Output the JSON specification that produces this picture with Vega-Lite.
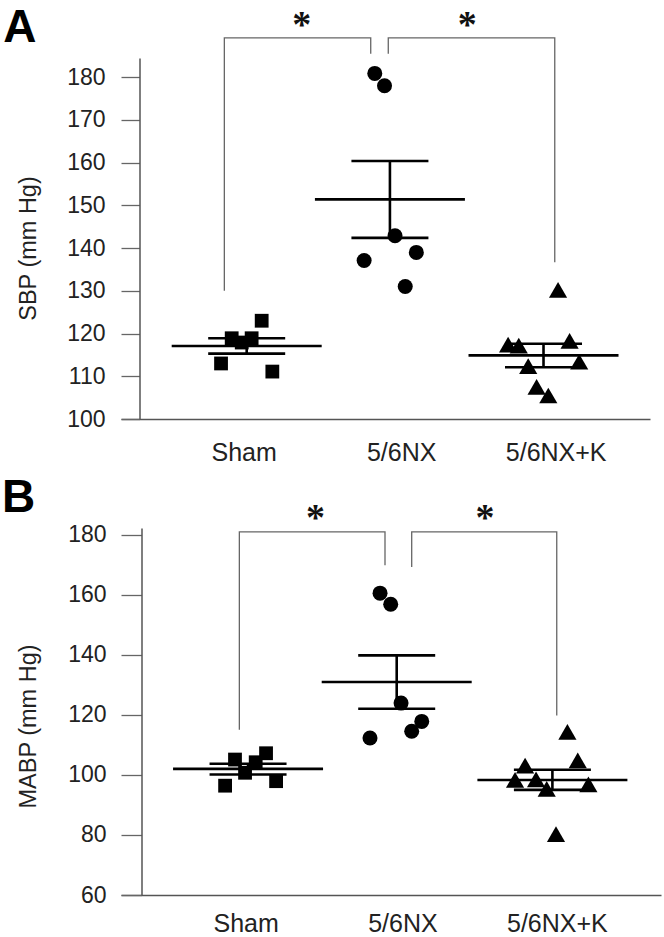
{
  "$schema": "https://vega.github.io/schema/vega-lite/v6.json",
  "padding": {"left": 2, "top": 5, "right": 5, "bottom": 2},
  "config": {
    "font": "Liberation Sans",
    "view": {"stroke": null},
    "axis": {"grid": false, "labelColor": "#222", "titleColor": "#222", "domainColor": "#555", "domainWidth": 1.5, "tickColor": "#666", "tickWidth": 1.3, "titleFontWeight": "normal"}
  },
  "datasets": {
    "sbpPoints": [
      {"group": "Sham", "x": 1.10, "value": 123.0},
      {"group": "Sham", "x": 0.90, "value": 118.9},
      {"group": "Sham", "x": 1.033, "value": 118.9},
      {"group": "Sham", "x": 0.967, "value": 117.9},
      {"group": "Sham", "x": 0.829, "value": 113.0},
      {"group": "Sham", "x": 1.171, "value": 111.1},
      {"group": "5/6NX", "x": 1.854, "value": 180.9},
      {"group": "5/6NX", "x": 1.919, "value": 178.0},
      {"group": "5/6NX", "x": 1.989, "value": 142.9},
      {"group": "5/6NX", "x": 1.783, "value": 137.1},
      {"group": "5/6NX", "x": 2.131, "value": 139.0},
      {"group": "5/6NX", "x": 2.057, "value": 131.0},
      {"group": "5/6NX+K", "x": 2.743, "value": 117.4},
      {"group": "5/6NX+K", "x": 2.814, "value": 117.2},
      {"group": "5/6NX+K", "x": 3.153, "value": 118.3},
      {"group": "5/6NX+K", "x": 2.877, "value": 112.4},
      {"group": "5/6NX+K", "x": 3.217, "value": 113.4},
      {"group": "5/6NX+K", "x": 2.933, "value": 107.5},
      {"group": "5/6NX+K", "x": 3.011, "value": 105.5},
      {"group": "5/6NX+K", "x": 3.076, "value": 130.2}
    ],
    "sbpSummary": [
      {"group": "Sham", "x": 1.0, "mean": 117.1, "lo": 115.3, "hi": 118.9},
      {"group": "5/6NX", "x": 1.955, "mean": 151.4, "lo": 142.4, "hi": 160.4},
      {"group": "5/6NX+K", "x": 2.979, "mean": 114.9, "lo": 112.1, "hi": 117.6}
    ],
    "sbpBrackets": [
      {"bracket": 1, "o": 1, "x": 0.851, "y": 130.0},
      {"bracket": 1, "o": 2, "x": 0.851, "y": 189.2},
      {"bracket": 1, "o": 3, "x": 1.827, "y": 189.2},
      {"bracket": 1, "o": 4, "x": 1.827, "y": 185.5},
      {"bracket": 2, "o": 1, "x": 1.944, "y": 185.5},
      {"bracket": 2, "o": 2, "x": 1.944, "y": 189.2},
      {"bracket": 2, "o": 3, "x": 3.054, "y": 189.2},
      {"bracket": 2, "o": 4, "x": 3.054, "y": 136.7}
    ],
    "sbpText": [
      {"label": "*", "kind": "star", "x": 1.367, "y": 189.5},
      {"label": "*", "kind": "star", "x": 2.471, "y": 189.5}
    ],
    "sbpPanel": [{"label": "A", "x": -0.623, "y": 188.2}],
    "mabpPoints": [
      {"group": "Sham", "x": 0.913, "value": 105.1},
      {"group": "Sham", "x": 1.12, "value": 107.2},
      {"group": "Sham", "x": 1.051, "value": 104.2},
      {"group": "Sham", "x": 0.98, "value": 100.7},
      {"group": "Sham", "x": 0.847, "value": 96.4},
      {"group": "Sham", "x": 1.187, "value": 97.9},
      {"group": "5/6NX", "x": 1.88, "value": 160.5},
      {"group": "5/6NX", "x": 1.951, "value": 156.8},
      {"group": "5/6NX", "x": 2.02, "value": 123.9},
      {"group": "5/6NX", "x": 1.813, "value": 112.3},
      {"group": "5/6NX", "x": 2.091, "value": 114.5},
      {"group": "5/6NX", "x": 2.158, "value": 117.8},
      {"group": "5/6NX+K", "x": 3.129, "value": 114.3},
      {"group": "5/6NX+K", "x": 3.198, "value": 104.8},
      {"group": "5/6NX+K", "x": 2.847, "value": 103.1},
      {"group": "5/6NX+K", "x": 2.78, "value": 98.3},
      {"group": "5/6NX+K", "x": 2.92, "value": 98.5},
      {"group": "5/6NX+K", "x": 2.991, "value": 95.3},
      {"group": "5/6NX+K", "x": 3.269, "value": 96.8},
      {"group": "5/6NX+K", "x": 3.053, "value": 80.3}
    ],
    "mabpSummary": [
      {"group": "Sham", "x": 1.0, "mean": 102.0, "lo": 100.1, "hi": 103.7},
      {"group": "5/6NX", "x": 1.991, "mean": 130.9, "lo": 122.0, "hi": 139.8},
      {"group": "5/6NX+K", "x": 3.029, "mean": 98.3, "lo": 95.0, "hi": 101.7}
    ],
    "mabpBrackets": [
      {"bracket": 1, "o": 1, "x": 0.942, "y": 115.0},
      {"bracket": 1, "o": 2, "x": 0.942, "y": 180.9},
      {"bracket": 1, "o": 3, "x": 1.913, "y": 180.9},
      {"bracket": 1, "o": 4, "x": 1.913, "y": 169.8},
      {"bracket": 2, "o": 1, "x": 2.091, "y": 169.2},
      {"bracket": 2, "o": 2, "x": 2.091, "y": 180.9},
      {"bracket": 2, "o": 3, "x": 3.058, "y": 180.9},
      {"bracket": 2, "o": 4, "x": 3.058, "y": 119.8}
    ],
    "mabpText": [
      {"label": "*", "kind": "star", "x": 1.45, "y": 181.5},
      {"label": "*", "kind": "star", "x": 2.579, "y": 181.5}
    ],
    "mabpPanel": [{"label": "B", "x": -0.64, "y": 187.5}]
  },
  "bounds": "flush",
  "spacing": 109,
  "resolve": {"scale": {"x": "independent", "y": "independent"}},
  "vconcat": [
    {
      "width": 529,
      "height": 361,
      "layer": [
        {
          "data": {"name": "sbpBrackets"},
          "mark": {"type": "line", "stroke": "#666", "strokeWidth": 1.3, "interpolate": "linear"},
          "encoding": {
            "x": {"field": "x", "type": "quantitative", "scale": {"domain": [0.162, 3.689], "nice": false, "zero": false},
              "axis": {"values": [0.98, 2.03, 3.06], "labelExpr": "datum.value < 1.5 ? 'Sham' : datum.value < 2.5 ? '5/6NX' : '5/6NX+K'", "ticks": false, "title": null, "labelFontSize": 25, "labelPadding": 21, "labelFlush": false, "labelOverlap": false}},
            "y": {"field": "y", "type": "quantitative", "scale": {"domain": [100, 184.5], "nice": false, "zero": false},
              "axis": {"values": [100,105,110,115,120,125,130,135,140,145,150,155,160,165,170,175,180], "labelExpr": "datum.value % 10 === 0 ? datum.label : ''", "offset": -18.5, "tickSize": 18.5, "labelPadding": 16, "labelFontSize": 23, "title": "SBP (mm Hg)", "titleFontSize": 23.5, "titleX": -111, "titleY": 190, "titleBaseline": "middle", "labelFlush": false, "labelOverlap": false}},
            "detail": {"field": "bracket"},
            "order": {"field": "o"}
          }
        },
        {
          "data": {"name": "sbpText"},
          "mark": {"type": "text", "font": "Liberation Serif", "fontSize": 38, "fontWeight": "bold", "baseline": "alphabetic", "align": "center", "color": "#111"},
          "encoding": {
            "x": {"field": "x", "type": "quantitative"},
            "y": {"field": "y", "type": "quantitative"},
            "text": {"field": "label"}
          }
        },
        {
          "data": {"name": "sbpPanel"},
          "mark": {"type": "text", "fontSize": 46, "fontWeight": "bold", "baseline": "alphabetic", "align": "left", "color": "#000"},
          "encoding": {
            "x": {"field": "x", "type": "quantitative"},
            "y": {"field": "y", "type": "quantitative"},
            "text": {"field": "label"}
          }
        },
        {
          "data": {"name": "sbpPoints"},
          "transform": [{"filter": "datum.group === 'Sham'"}],
          "mark": {"type": "point", "shape": "square", "size": 190, "filled": true, "opacity": 1, "color": "#000", "strokeWidth": 0},
          "encoding": {
            "x": {"field": "x", "type": "quantitative"},
            "y": {"field": "value", "type": "quantitative"}
          }
        },
        {
          "data": {"name": "sbpPoints"},
          "transform": [{"filter": "datum.group === '5/6NX'"}],
          "mark": {"type": "point", "shape": "circle", "size": 225, "filled": true, "opacity": 1, "color": "#000", "strokeWidth": 0},
          "encoding": {
            "x": {"field": "x", "type": "quantitative"},
            "y": {"field": "value", "type": "quantitative"}
          }
        },
        {
          "data": {"name": "sbpPoints"},
          "transform": [{"filter": "datum.group === '5/6NX+K'"}],
          "mark": {"type": "point", "shape": "triangle-up", "size": 330, "filled": true, "opacity": 1, "color": "#000", "strokeWidth": 0},
          "encoding": {
            "x": {"field": "x", "type": "quantitative"},
            "y": {"field": "value", "type": "quantitative"}
          }
        },
        {
          "data": {"name": "sbpSummary"},
          "mark": {"type": "tick", "orient": "horizontal", "size": 150, "thickness": 2.6, "color": "#000", "opacity": 1},
          "encoding": {
            "x": {"field": "x", "type": "quantitative"},
            "y": {"field": "mean", "type": "quantitative"}
          }
        },
        {
          "data": {"name": "sbpSummary"},
          "mark": {"type": "tick", "orient": "horizontal", "size": 77, "thickness": 2.6, "color": "#000", "opacity": 1},
          "encoding": {
            "x": {"field": "x", "type": "quantitative"},
            "y": {"field": "lo", "type": "quantitative"}
          }
        },
        {
          "data": {"name": "sbpSummary"},
          "mark": {"type": "tick", "orient": "horizontal", "size": 77, "thickness": 2.6, "color": "#000", "opacity": 1},
          "encoding": {
            "x": {"field": "x", "type": "quantitative"},
            "y": {"field": "hi", "type": "quantitative"}
          }
        },
        {
          "data": {"name": "sbpSummary"},
          "mark": {"type": "rule", "strokeWidth": 2.6, "color": "#000"},
          "encoding": {
            "x": {"field": "x", "type": "quantitative"},
            "y": {"field": "lo", "type": "quantitative"},
            "y2": {"field": "hi"}
          }
        }
      ]
    },
    {
      "width": 540,
      "height": 367,
      "layer": [
        {
          "data": {"name": "mabpBrackets"},
          "mark": {"type": "line", "stroke": "#666", "strokeWidth": 1.3, "interpolate": "linear"},
          "encoding": {
            "x": {"field": "x", "type": "quantitative", "scale": {"domain": [0.153, 3.753], "nice": false, "zero": false},
              "axis": {"values": [0.984, 2.029, 3.059], "labelExpr": "datum.value < 1.5 ? 'Sham' : datum.value < 2.5 ? '5/6NX' : '5/6NX+K'", "ticks": false, "title": null, "labelFontSize": 25, "labelPadding": 16, "labelFlush": false, "labelOverlap": false}},
            "y": {"field": "y", "type": "quantitative", "scale": {"domain": [60, 182.2], "nice": false, "zero": false},
              "axis": {"values": [60,70,80,90,100,110,120,130,140,150,160,170,180], "labelExpr": "datum.value % 20 === 0 ? datum.label : ''", "offset": -20.5, "tickSize": 20.5, "labelPadding": 15, "labelFontSize": 23, "title": "MABP (mm Hg)", "titleFontSize": 23.5, "titleX": -113, "titleY": 198, "titleBaseline": "middle", "labelFlush": false, "labelOverlap": false}},
            "detail": {"field": "bracket"},
            "order": {"field": "o"}
          }
        },
        {
          "data": {"name": "mabpText"},
          "mark": {"type": "text", "font": "Liberation Serif", "fontSize": 38, "fontWeight": "bold", "baseline": "alphabetic", "align": "center", "color": "#111"},
          "encoding": {
            "x": {"field": "x", "type": "quantitative"},
            "y": {"field": "y", "type": "quantitative"},
            "text": {"field": "label"}
          }
        },
        {
          "data": {"name": "mabpPanel"},
          "mark": {"type": "text", "fontSize": 46, "fontWeight": "bold", "baseline": "alphabetic", "align": "left", "color": "#000"},
          "encoding": {
            "x": {"field": "x", "type": "quantitative"},
            "y": {"field": "y", "type": "quantitative"},
            "text": {"field": "label"}
          }
        },
        {
          "data": {"name": "mabpPoints"},
          "transform": [{"filter": "datum.group === 'Sham'"}],
          "mark": {"type": "point", "shape": "square", "size": 190, "filled": true, "opacity": 1, "color": "#000", "strokeWidth": 0},
          "encoding": {
            "x": {"field": "x", "type": "quantitative"},
            "y": {"field": "value", "type": "quantitative"}
          }
        },
        {
          "data": {"name": "mabpPoints"},
          "transform": [{"filter": "datum.group === '5/6NX'"}],
          "mark": {"type": "point", "shape": "circle", "size": 225, "filled": true, "opacity": 1, "color": "#000", "strokeWidth": 0},
          "encoding": {
            "x": {"field": "x", "type": "quantitative"},
            "y": {"field": "value", "type": "quantitative"}
          }
        },
        {
          "data": {"name": "mabpPoints"},
          "transform": [{"filter": "datum.group === '5/6NX+K'"}],
          "mark": {"type": "point", "shape": "triangle-up", "size": 330, "filled": true, "opacity": 1, "color": "#000", "strokeWidth": 0},
          "encoding": {
            "x": {"field": "x", "type": "quantitative"},
            "y": {"field": "value", "type": "quantitative"}
          }
        },
        {
          "data": {"name": "mabpSummary"},
          "mark": {"type": "tick", "orient": "horizontal", "size": 150, "thickness": 2.6, "color": "#000", "opacity": 1},
          "encoding": {
            "x": {"field": "x", "type": "quantitative"},
            "y": {"field": "mean", "type": "quantitative"}
          }
        },
        {
          "data": {"name": "mabpSummary"},
          "mark": {"type": "tick", "orient": "horizontal", "size": 77, "thickness": 2.6, "color": "#000", "opacity": 1},
          "encoding": {
            "x": {"field": "x", "type": "quantitative"},
            "y": {"field": "lo", "type": "quantitative"}
          }
        },
        {
          "data": {"name": "mabpSummary"},
          "mark": {"type": "tick", "orient": "horizontal", "size": 77, "thickness": 2.6, "color": "#000", "opacity": 1},
          "encoding": {
            "x": {"field": "x", "type": "quantitative"},
            "y": {"field": "hi", "type": "quantitative"}
          }
        },
        {
          "data": {"name": "mabpSummary"},
          "mark": {"type": "rule", "strokeWidth": 2.6, "color": "#000"},
          "encoding": {
            "x": {"field": "x", "type": "quantitative"},
            "y": {"field": "lo", "type": "quantitative"},
            "y2": {"field": "hi"}
          }
        }
      ]
    }
  ]
}
